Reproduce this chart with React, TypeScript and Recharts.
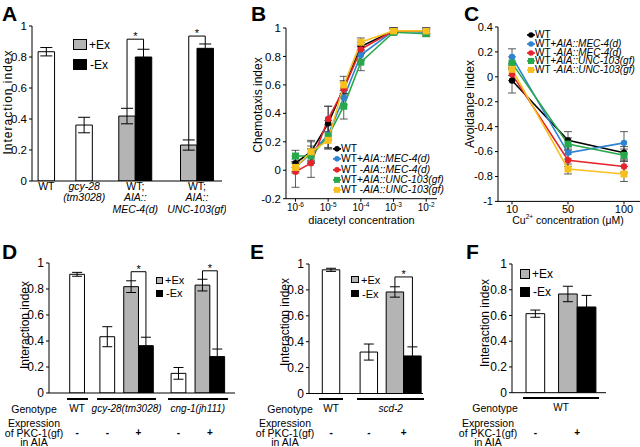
import React from 'react';
import {
  BarChart, Bar, Cell, ErrorBar, XAxis, YAxis, ReferenceLine,
  LineChart, Line,
} from 'recharts';

const FONT = '"Liberation Sans", Arial, Helvetica, sans-serif';

/* ------------------------------ data ------------------------------ */
// Panel A
const A_KINDS = ['none', 'none', '+Ex', '-Ex', '+Ex', '-Ex'];
const A_VALUES = [0.834, 0.361, 0.419, 0.8, 0.232, 0.856];
const A_ERRORS = [0.027, 0.05, 0.05, 0.05, 0.033, 0.028];
const A_GROUP_BARS = [[0], [1], [2, 3], [4, 5]];
const A_GROUP_LABELS = [['WT'], ['gcy-28', '(tm3028)'], ['WT;', 'AIA::', 'MEC-4(d)'], ['WT;', 'AIA::', 'UNC-103(gf)']];
const A_SIG = [[2, 3, 0.915], [4, 5, 0.935]];
const INDEX_TICKS = [0, 0.2, 0.4, 0.6, 0.8, 1];

// Panel B
const B_CONC = [1e-6, 3e-6, 1e-5, 3e-5, 1e-4, 1e-3, 1e-2];
const B_XTICKS = [1e-6, 1e-5, 1e-4, 1e-3, 1e-2];
const B_YTICKS = [-0.2, 0, 0.2, 0.4, 0.6, 0.8, 1];
const B_WT = [0.05, 0.13, 0.33, 0.58, 0.87, 0.98, 0.98];
const B_WT_ERR = [0.03, 0.07, 0.12, 0.05, 0.03, 0.02, 0.02];
const B_MEC_P = [0.02, 0.12, 0.25, 0.51, 0.81, 0.98, 0.97];
const B_MEC_P_ERR = [0.04, 0.05, 0.1, 0.05, 0.04, 0.02, 0.02];
const B_MEC_M = [-0.01, 0.05, 0.36, 0.57, 0.85, 0.98, 0.98];
const B_MEC_M_ERR = [0.11, 0.1, 0.09, 0.05, 0.03, 0.02, 0.02];
const B_UNC_P = [0.1, 0.1, 0.24, 0.45, 0.76, 0.97, 0.96];
const B_UNC_P_ERR = [0.04, 0.05, 0.08, 0.09, 0.06, 0.02, 0.02];
const B_UNC_M = [0.02, 0.13, 0.21, 0.6, 0.9, 0.98, 0.98];
const B_UNC_M_ERR = [0.03, 0.08, 0.06, 0.06, 0.03, 0.02, 0.02];

// Panel C
const C_CONC = ['10', '50', '100'];
const C_YTICKS = [-1, -0.8, -0.6, -0.4, -0.2, 0, 0.2, 0.4];
const C_WT = [-0.03, -0.51, -0.61];
const C_WT_ERR = [0.1, 0.07, 0.05];
const C_MEC_P = [0.16, -0.61, -0.53];
const C_MEC_P_ERR = [0.065, 0.05, 0.09];
const C_MEC_M = [0.02, -0.67, -0.72];
const C_MEC_M_ERR = [0.05, 0.05, 0.05];
const C_UNC_P = [0.11, -0.54, -0.63];
const C_UNC_P_ERR = [0.05, 0.05, 0.05];
const C_UNC_M = [0.06, -0.74, -0.78];
const C_UNC_M_ERR = [0.05, 0.04, 0.06];

const STRAINS = [
  { key: 'wt', pre: 'WT', it: '' },
  { key: 'mp', pre: 'WT+', it: 'AIA::MEC-4(d)' },
  { key: 'mm', pre: 'WT -', it: 'AIA::MEC-4(d)' },
  { key: 'up', pre: 'WT+', it: 'AIA::UNC-103(gf)' },
  { key: 'um', pre: 'WT -', it: 'AIA::UNC-103(gf)' },
];
const B_VALS = [B_WT, B_MEC_P, B_MEC_M, B_UNC_P, B_UNC_M];
const B_ERRS = [B_WT_ERR, B_MEC_P_ERR, B_MEC_M_ERR, B_UNC_P_ERR, B_UNC_M_ERR];
const C_VALS = [C_WT, C_MEC_P, C_MEC_M, C_UNC_P, C_UNC_M];
const C_ERRS = [C_WT_ERR, C_MEC_P_ERR, C_MEC_M_ERR, C_UNC_P_ERR, C_UNC_M_ERR];

// Panel D
const D_KINDS = ['none', 'none', '+Ex', '-Ex', 'none', '+Ex', '-Ex'];
const D_VALUES = [0.913, 0.433, 0.818, 0.364, 0.151, 0.83, 0.28];
const D_ERRORS = [0.015, 0.077, 0.045, 0.065, 0.045, 0.045, 0.058];
const D_SIG = [[2, 3, 0.933], [5, 6, 0.94]];
const D_GENOTYPES = ['WT', 'gcy-28(tm3028)', 'cng-1(jh111)'];
const D_GENO_BARS = [[0], [1, 2, 3], [4, 5, 6]];
const D_PKC = ['-', '-', '+', '-', '+'];
const D_PKC_BARS = [[0], [1], [2, 3], [4], [5, 6]];

// Panel E
const E_KINDS = ['none', 'none', '+Ex', '-Ex'];
const E_VALUES = [0.955, 0.32, 0.784, 0.29];
const E_ERRORS = [0.012, 0.062, 0.04, 0.07];
const E_SIG = [[2, 3, 0.9]];
const E_GENOTYPES = ['WT', 'scd-2'];
const E_GENO_BARS = [[0], [1, 2, 3]];
const E_PKC = ['-', '-', '+'];
const E_PKC_BARS = [[0], [1], [2, 3]];

// Panel F
const F_KINDS = ['none', '+Ex', '-Ex'];
const F_VALUES = [0.614, 0.767, 0.666];
const F_ERRORS = [0.028, 0.06, 0.09];
const F_GENOTYPES = ['WT'];
const F_GENO_BARS = [[0, 1, 2]];
const F_PKC = ['-', '+'];
const F_PKC_BARS = [[0], [1, 2]];

/* ----------------------------- styling / layout ----------------------------- */
const KIND_FILL: Record<string, string> = { none: '#ffffff', '+Ex': '#b4b4b4', '-Ex': '#000000' };
const COLORS = ['#000000', '#2f84d1', '#e5232b', '#27a84a', '#f8c01f'];
const SHAPES = ['circle', 'circle', 'circle', 'square', 'square'];

type Rect = { left: number; top: number; right: number; bottom: number };
const RECT_A: Rect = { left: 32, top: 26, right: 222, bottom: 181 };
const RECT_B: Rect = { left: 286, top: 28.3, right: 437, bottom: 199 };
const RECT_C: Rect = { left: 498, top: 27.3, right: 640, bottom: 201.7 };
const RECT_D: Rect = { left: 49, top: 263, right: 235, bottom: 393 };
const RECT_E: Rect = { left: 309, top: 264, right: 423, bottom: 393.5 };
const RECT_F: Rect = { left: 512, top: 264.3, right: 606, bottom: 393 };
// bar slot layout (in bar-width units from the y axis)
const A_UNIT = 16.5; const A_SLOTS = [0.87, 3.16, 5.76, 6.76, 9.5, 10.5];
const D_UNIT = 14.8; const D_SLOTS = [1.9, 3.94, 5.55, 6.55, 8.75, 10.37, 11.37];
const E_UNIT = 17.5; const E_SLOTS = [1.26, 3.42, 4.91, 5.91];
const F_UNIT = 18.7; const F_SLOTS = [1.25, 2.99, 3.99];

/* ----------------------------- helpers ----------------------------- */
function T({ x, y, children, size = 11, anchor = 'middle', italic = false, bold = false, style = {} }: any) {
  const tx = anchor === 'middle' ? '-50%' : anchor === 'end' ? '-100%' : '0';
  return (
    <div style={{
      position: 'absolute', left: x, top: y, transform: `translate(${tx}, -50%)`,
      fontSize: size, fontStyle: italic ? 'italic' : 'normal', fontWeight: bold ? 700 : 400,
      lineHeight: 1, whiteSpace: 'nowrap', ...style,
    }}>{children}</div>
  );
}

function VT({ x, y, children, size = 12, spacing = 0 }: any) {
  return (
    <div style={{
      position: 'absolute', left: x, top: y, transform: 'translate(-50%, -50%) rotate(-90deg)',
      fontSize: size, lineHeight: 1, whiteSpace: 'nowrap', letterSpacing: spacing,
    }}>{children}</div>
  );
}

function Letter({ x, y, children }: any) {
  return <T x={x} y={y} size={21} anchor="start" bold>{children}</T>;
}

function ExLegend({ x, y1, y2, w, h, size, gap = 2 }: any) {
  const box = (fill: string, y: number) => (
    <div style={{ position: 'absolute', left: x, top: y - h / 2, width: w, height: h, background: fill, border: '1px solid #000', boxSizing: 'border-box' }} />
  );
  return (
    <>
      {box(KIND_FILL['+Ex'], y1)}
      <T x={x + w + gap} y={y1} size={size} anchor="start">+Ex</T>
      {box(KIND_FILL['-Ex'], y2)}
      <T x={x + w + gap + 1} y={y2} size={size} anchor="start">-Ex</T>
    </>
  );
}

function StrainLegend({ x, y0, dy, size }: any) {
  return (
    <>
      {STRAINS.map((s, k) => (
        <div key={s.key} style={{
          position: 'absolute', left: x, top: y0 + k * dy, transform: 'translateY(-50%)',
          display: 'flex', alignItems: 'center', fontSize: size, lineHeight: 1, whiteSpace: 'nowrap',
        }}>
          <svg width={8} height={8} style={{ display: 'block' }}>
            <line x1={0} y1={4} x2={8} y2={4} stroke={COLORS[k]} strokeWidth={1.6} />
            {SHAPES[k] === 'square'
              ? <rect x={1} y={1} width={6} height={6} fill={COLORS[k]} />
              : <circle cx={4} cy={4} r={2.8} fill={COLORS[k]} />}
          </svg>
          <span>{s.pre}<i>{s.it}</i></span>
        </div>
      ))}
    </>
  );
}

const makeDot = (k: number) => (p: any) => {
  const { cx, cy, index } = p;
  if (cx == null || cy == null) return <g key={`n${k}-${index}`} />;
  return SHAPES[k] === 'square'
    ? <rect key={`d${k}-${index}`} x={cx - 3.5} y={cy - 3.5} width={7} height={7} fill={COLORS[k]} />
    : <circle key={`d${k}-${index}`} cx={cx} cy={cy} r={3.2} fill={COLORS[k]} />;
};

function BarPanel(s: any) {
  const YW = 40, MT = 14, MR = 4;
  const w = s.rect.right - s.rect.left;
  const h = s.rect.bottom - s.rect.top;
  const data = s.values.map((v: number, i: number) => ({ x: s.slots[i], v, e: s.errors[i], kind: s.kinds[i] }));
  const topOf = (i: number) => s.values[i] + s.errors[i];
  const sigLines: any[] = [];
  s.sig.forEach(([a, b, lvl]: number[], k: number) => {
    const xa = s.slots[a], xb = s.slots[b];
    sigLines.push(<ReferenceLine key={`sa${k}`} segment={[{ x: xa, y: topOf(a) }, { x: xa, y: lvl }]} stroke="#000" strokeWidth={1} ifOverflow="visible" />);
    sigLines.push(<ReferenceLine key={`sb${k}`} segment={[{ x: xb, y: topOf(b) }, { x: xb, y: lvl }]} stroke="#000" strokeWidth={1} ifOverflow="visible" />);
    sigLines.push(<ReferenceLine key={`sc${k}`} segment={[{ x: xa, y: lvl }, { x: xb, y: lvl }]} stroke="#000" strokeWidth={1} ifOverflow="visible"
      label={{ value: '*', position: 'top', offset: -1, fill: '#000', fontSize: 11, fontFamily: FONT }} />);
  });
  return (
    <div style={{ position: 'absolute', left: s.rect.left - YW, top: s.rect.top - MT }}>
      <BarChart width={YW + w + MR} height={MT + h + s.xH} data={data} margin={{ top: MT, right: MR, bottom: 0, left: 0 }}>
        <XAxis dataKey="x" type="number" domain={[0, w / s.unit]} allowDataOverflow height={s.xH}
          axisLine={{ stroke: '#000', strokeWidth: 1 }} tickLine={false} tickSize={0} tickMargin={0}
          ticks={s.xTicks ?? []} tick={s.xTick ?? false} interval={0} />
        <YAxis type="number" domain={[0, 1]} ticks={INDEX_TICKS} allowDataOverflow width={YW}
          axisLine={{ stroke: '#000' }} tickLine={{ stroke: '#000' }} tickSize={3} tickMargin={2}
          tick={{ fill: '#000', fontSize: s.tickSize, fontFamily: FONT }} interval={0} />
        <Bar dataKey="v" barSize={s.unit - 0.05} isAnimationActive={false}>
          {data.map((d: any, i: number) => <Cell key={i} fill={KIND_FILL[d.kind]} stroke="#000" strokeWidth={1} />)}
          <ErrorBar dataKey="e" width={s.cap} stroke="#000" strokeWidth={1} direction="y" />
        </Bar>
        {sigLines}
      </BarChart>
    </div>
  );
}

function GenoRows({ rect, unit, slots, genos, genoBars, signs, signBars, gx, ex, lineY, genoY, exprY }: any) {
  const pos = (v: number) => rect.left + unit * v;
  return (
    <>
      {genos.map((g: string, k: number) => {
        const b = genoBars[k];
        const x1 = pos(slots[b[0]] - 0.5) - 3;
        const x2 = pos(slots[b[b.length - 1]] + 0.5) + 3;
        return (
          <React.Fragment key={k}>
            <div style={{ position: 'absolute', left: x1, top: lineY - 1, width: x2 - x1, height: 2, background: '#000' }} />
            <T x={(x1 + x2) / 2} y={genoY} size={10} italic={g !== 'WT'}>{g}</T>
          </React.Fragment>
        );
      })}
      <T x={gx} y={genoY} size={10.5}>Genotype</T>
      <T x={ex} y={exprY - 9.8} size={10.5}>Expression</T>
      <T x={ex} y={exprY} size={10.5}>of PKC-1(gf)</T>
      <T x={ex} y={exprY + 9.8} size={10.5}>in AIA</T>
      {signs.map((sg: string, k: number) => {
        const b = signBars[k];
        const cx = pos((slots[b[0]] + slots[b[b.length - 1]]) / 2);
        return <T key={k} x={cx} y={exprY} size={10} bold>{sg}</T>;
      })}
    </>
  );
}

/* ----------------------------- panels ----------------------------- */
function ATick(p: any) {
  const lines: string[] = A_GROUP_LABELS[p.index] || [];
  return (
    <g>
      {lines.map((t, k) => (
        <text key={k} x={p.x} y={p.y + 8.5 + k * 11.5} textAnchor="middle" fontSize={10.5} fontFamily={FONT}
          fontStyle={/^WT;?$/.test(t) ? 'normal' : 'italic'} fill="#000">{t}</text>
      ))}
    </g>
  );
}

function PanelA() {
  const ticks = A_GROUP_BARS.map((g) => (A_SLOTS[g[0]] + A_SLOTS[g[g.length - 1]]) / 2);
  return (
    <>
      <BarPanel rect={RECT_A} unit={A_UNIT} slots={A_SLOTS} values={A_VALUES} errors={A_ERRORS} kinds={A_KINDS}
        sig={A_SIG} cap={6} tickSize={11.5} xH={40} xTicks={ticks} xTick={(p: any) => <ATick {...p} />} />
      <ExLegend x={73} y1={44.5} y2={64.5} w={14} h={11} size={12} />
      <VT x={8} y={102} size={12} spacing={1}>Interaction index</VT>
      <Letter x={2} y={13}>A</Letter>
    </>
  );
}

function PowTick(p: any) {
  const exp = Math.round(Math.log10(p.payload.value));
  return (
    <text x={p.x} y={p.y + 9} textAnchor="middle" fontSize={10} fontFamily={FONT} fill="#000">
      10<tspan dy={-4} fontSize={6.5}>{exp}</tspan>
    </text>
  );
}

function PanelB() {
  const r = RECT_B; const YW = 36, MT = 10, MR = 4, XH = 16;
  const w = r.right - r.left, h = r.bottom - r.top;
  const rows = B_CONC.map((c, i) => {
    const row: any = { c };
    STRAINS.forEach((s, k) => { row[s.key] = B_VALS[k][i]; row[s.key + 'e'] = B_ERRS[k][i]; });
    return row;
  });
  return (
    <>
      <div style={{ position: 'absolute', left: r.left - YW, top: r.top - MT }}>
        <LineChart width={YW + w + MR} height={MT + h + XH} data={rows} margin={{ top: MT, right: MR, bottom: 0, left: 0 }}>
          <XAxis dataKey="c" type="number" scale="log" domain={[Math.pow(10, -6.29), Math.pow(10, -1.67)]} allowDataOverflow
            ticks={B_XTICKS} tick={(p: any) => <PowTick {...p} />} interval={0} height={XH}
            axisLine={{ stroke: '#000' }} tickLine={{ stroke: '#000' }} tickSize={3} tickMargin={0} />
          <YAxis type="number" domain={[-0.2, 1]} ticks={B_YTICKS} allowDataOverflow width={YW} interval={0}
            axisLine={{ stroke: '#000' }} tickLine={{ stroke: '#000' }} tickSize={3} tickMargin={2}
            tick={{ fill: '#000', fontSize: 11.5, fontFamily: FONT }} />
          {STRAINS.map((s, k) => (
            <Line key={s.key} dataKey={s.key} stroke={COLORS[k]} strokeWidth={1.6} dot={makeDot(k)} isAnimationActive={false}>
              <ErrorBar dataKey={s.key + 'e'} width={4} stroke="#333" strokeWidth={0.8} direction="y" />
            </Line>
          ))}
        </LineChart>
      </div>
      <StrainLegend x={333} y0={148.7} dy={10.4} size={10.3} />
      <VT x={257.5} y={105} size={12}>Chemotaxis index</VT>
      <T x={(r.left + r.right) / 2} y={220} size={11}>diacetyl concentration</T>
      <Letter x={251} y={13}>B</Letter>
    </>
  );
}

function PanelC() {
  const r = RECT_C; const YW = 36, MT = 10, MR = 0, XH = 16;
  const w = r.right - r.left, h = r.bottom - r.top;
  const rows = C_CONC.map((c, i) => {
    const row: any = { c };
    STRAINS.forEach((s, k) => { row[s.key] = C_VALS[k][i]; row[s.key + 'e'] = C_ERRS[k][i]; });
    return row;
  });
  return (
    <>
      <div style={{ position: 'absolute', left: r.left - YW, top: r.top - MT }}>
        <LineChart width={YW + w + MR} height={MT + h + XH} data={rows} margin={{ top: MT, right: MR, bottom: 0, left: 0 }}>
          <XAxis dataKey="c" type="category" scale="point" padding={{ left: 14, right: 16 }} interval={0} height={XH}
            axisLine={{ stroke: '#000' }} tickLine={{ stroke: '#000' }} tickSize={3} tickMargin={1}
            tick={{ fill: '#000', fontSize: 11, fontFamily: FONT }} />
          <YAxis type="number" domain={[-1, 0.4]} ticks={C_YTICKS} allowDataOverflow width={YW} interval={0}
            axisLine={{ stroke: '#000' }} tickLine={{ stroke: '#000' }} tickSize={3} tickMargin={2}
            tick={{ fill: '#000', fontSize: 11, fontFamily: FONT }} />
          {STRAINS.map((s, k) => (
            <Line key={s.key} dataKey={s.key} stroke={COLORS[k]} strokeWidth={1.6} dot={makeDot(k)} isAnimationActive={false}>
              <ErrorBar dataKey={s.key + 'e'} width={4} stroke="#333" strokeWidth={0.8} direction="y" />
            </Line>
          ))}
        </LineChart>
      </div>
      <StrainLegend x={527} y0={35} dy={8.75} size={10} />
      <VT x={470} y={104} size={12}>Avoidance index</VT>
      <T x={568} y={220} size={10.5}>Cu<sup style={{ fontSize: 6.5, verticalAlign: 'super', lineHeight: 0 }}>2+</sup> concentration (μM)</T>
      <Letter x={464} y={13}>C</Letter>
    </>
  );
}

function PanelD() {
  return (
    <>
      <BarPanel rect={RECT_D} unit={D_UNIT} slots={D_SLOTS} values={D_VALUES} errors={D_ERRORS} kinds={D_KINDS}
        sig={D_SIG} cap={5} tickSize={12} xH={8} />
      <ExLegend x={156} y1={280} y2={293} w={7} h={7} size={11} />
      <GenoRows rect={RECT_D} unit={D_UNIT} slots={D_SLOTS} genos={D_GENOTYPES} genoBars={D_GENO_BARS}
        signs={D_PKC} signBars={D_PKC_BARS} gx={34} ex={34} lineY={399} genoY={409} exprY={432.5} />
      <VT x={25} y={325} size={12}>Interaction index</VT>
      <Letter x={2} y={250.5}>D</Letter>
    </>
  );
}

function PanelE() {
  return (
    <>
      <BarPanel rect={RECT_E} unit={E_UNIT} slots={E_SLOTS} values={E_VALUES} errors={E_ERRORS} kinds={E_KINDS}
        sig={E_SIG} cap={5} tickSize={12} xH={8} />
      <ExLegend x={351} y1={279.5} y2={293.5} w={8} h={7} size={11} />
      <GenoRows rect={RECT_E} unit={E_UNIT} slots={E_SLOTS} genos={E_GENOTYPES} genoBars={E_GENO_BARS}
        signs={E_PKC} signBars={E_PKC_BARS} gx={290} ex={285} lineY={399} genoY={408.5} exprY={432.5} />
      <VT x={285} y={322} size={12}>Interaction index</VT>
      <Letter x={250} y={250.5}>E</Letter>
    </>
  );
}

function PanelF() {
  return (
    <>
      <BarPanel rect={RECT_F} unit={F_UNIT} slots={F_SLOTS} values={F_VALUES} errors={F_ERRORS} kinds={F_KINDS}
        sig={[]} cap={5} tickSize={12} xH={8} />
      <ExLegend x={520} y1={274} y2={291.5} w={10} h={10} size={12} />
      <GenoRows rect={RECT_F} unit={F_UNIT} slots={F_SLOTS} genos={F_GENOTYPES} genoBars={F_GENO_BARS}
        signs={F_PKC} signBars={F_PKC_BARS} gx={495} ex={488} lineY={398} genoY={408} exprY={432.5} />
      <VT x={485} y={323} size={12}>Interaction index</VT>
      <Letter x={466} y={250.5}>F</Letter>
    </>
  );
}

export default function App() {
  return (
    <div style={{
      position: 'fixed', left: 0, top: 0, width: 640, height: 447, background: '#fff',
      fontFamily: FONT, color: '#000', overflow: 'hidden',
    }}>
      <PanelA />
      <PanelB />
      <PanelC />
      <PanelD />
      <PanelE />
      <PanelF />
    </div>
  );
}
